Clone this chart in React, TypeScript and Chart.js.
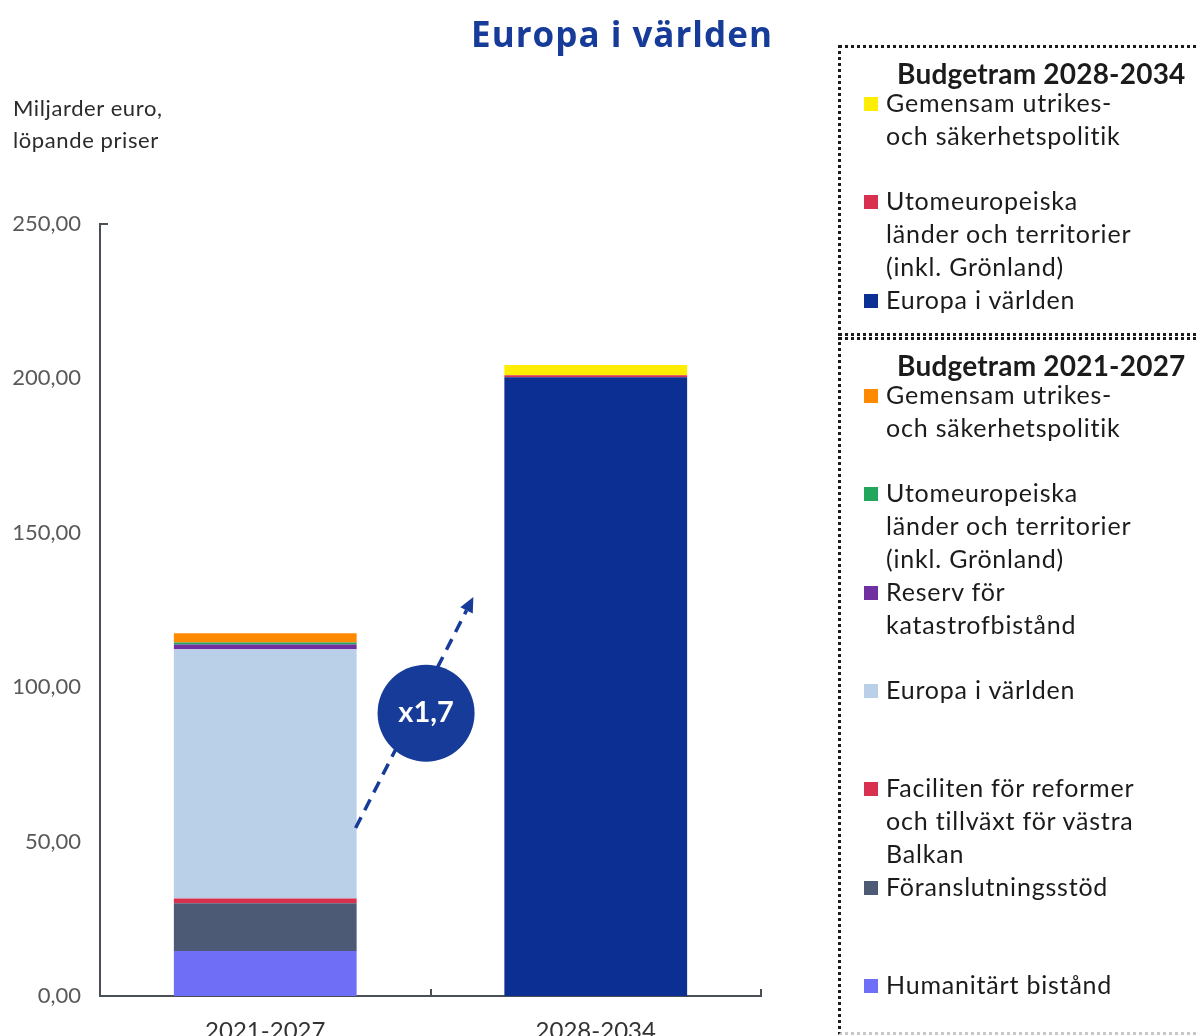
import React, { useEffect, useRef } from "react";
import { Chart, registerables } from "chart.js";

Chart.register(...registerables);

// ---------- data ----------
const categories = ["2021-2027", "2028-2034"];

// MFF 2021-2027, stacked bottom -> top
const names2021 = [
  "Humanitärt bistånd",
  "Föranslutningsstöd",
  "Faciliten för reformer\noch tillväxt för västra\nBalkan",
  "Europa i världen",
  "Reserv för\nkatastrofbistånd",
  "Utomeuropeiska\nländer och territorier\n(inkl. Grönland)",
  "Gemensam utrikes-\noch säkerhetspolitik",
];
const values2021 = [14.6, 15.4, 1.6, 80.7, 1.5, 0.7, 3.0];
const colors2021 = ["#6f6ef7", "#4c5a75", "#d8304f", "#b9d0e8", "#7030a0", "#21a65b", "#ff8a00"];

// MFF 2028-2034, stacked bottom -> top
const names2028 = [
  "Europa i världen",
  "Utomeuropeiska\nländer och territorier\n(inkl. Grönland)",
  "Gemensam utrikes-\noch säkerhetspolitik",
];
const values2028 = [200.4, 0.6, 3.3];
const colors2028 = ["#0b2f93", "#d8304f", "#ffee00"];

const yTicks = [0, 50, 100, 150, 200, 250];

const TITLE = "Europa i världen";
const Y_TITLE = ["Miljarder euro,", "löpande priser"];
const LEGEND_HEAD_2028 = "Budgetram 2028-2034";
const LEGEND_HEAD_2021 = "Budgetram 2021-2027";

// annotation (arrow + growth bubble), in value units
const ARROW_FROM_VALUE = 54.4;
const ARROW_TO_VALUE = 129.2;
const BUBBLE_VALUE = 91.6;

// ---------- styles ----------
const FONT = "Lato, 'Open Sans', sans-serif";
const AXIS_COLOR = "#4a4f55";
const ANNOT_COLOR = "#163b98";

const sum = (a: number[]) => a.reduce((s, v) => s + v, 0);

const decorPlugin = {
  id: "decor",
  afterDatasetsDraw(chart: any) {
    const { ctx, chartArea, scales } = chart;
    const y = scales.y;
    ctx.save();
    // top tick of y axis
    ctx.strokeStyle = AXIS_COLOR;
    ctx.lineWidth = 2;
    const yTop = y.getPixelForValue(yTicks[yTicks.length - 1]);
    ctx.beginPath();
    ctx.moveTo(chartArea.left, yTop);
    ctx.lineTo(chartArea.left + 8, yTop);
    ctx.stroke();
    // x category boundary ticks (pointing up)
    const n = categories.length;
    const cw = (chartArea.right - chartArea.left) / n;
    for (let i = 1; i <= n; i++) {
      const px = Math.round(chartArea.left + i * cw);
      ctx.beginPath();
      ctx.moveTo(px, chartArea.bottom);
      ctx.lineTo(px, chartArea.bottom - 7);
      ctx.stroke();
    }
    // bar geometry
    const b1 = chart.getDatasetMeta(0).data[0];
    const b2 = chart.getDatasetMeta(names2021.length).data[1];
    const b1Right = b1.x + b1.width / 2;
    const b2Left = b2.x - b2.width / 2;
    const gap = b2Left - b1Right;
    const sx = b1Right - 1;
    const sy = y.getPixelForValue(ARROW_FROM_VALUE);
    const ex = b1Right + gap * 0.79;
    const ey = y.getPixelForValue(ARROW_TO_VALUE);
    const ang = Math.atan2(ey - sy, ex - sx);
    const headLen = 15;
    const headW = 7;
    const bx = ex - headLen * Math.cos(ang);
    const by = ey - headLen * Math.sin(ang);
    ctx.strokeStyle = ANNOT_COLOR;
    ctx.fillStyle = ANNOT_COLOR;
    ctx.lineWidth = 3.5;
    ctx.setLineDash([12, 8]);
    ctx.beginPath();
    ctx.moveTo(sx, sy);
    ctx.lineTo(bx, by);
    ctx.stroke();
    ctx.setLineDash([]);
    ctx.beginPath();
    ctx.moveTo(ex, ey);
    ctx.lineTo(bx + headW * Math.sin(ang), by - headW * Math.cos(ang));
    ctx.lineTo(bx - headW * Math.sin(ang), by + headW * Math.cos(ang));
    ctx.closePath();
    ctx.fill();
    // bubble
    const cx = b1Right + gap * 0.47;
    const cy = y.getPixelForValue(BUBBLE_VALUE);
    ctx.beginPath();
    ctx.arc(cx, cy, 48.5, 0, Math.PI * 2);
    ctx.fill();
    const ratio = sum(values2028) / sum(values2021);
    ctx.fillStyle = "#ffffff";
    ctx.font = `bold 29px ${FONT}`;
    ctx.textAlign = "center";
    ctx.textBaseline = "middle";
    ctx.fillText("x" + ratio.toFixed(1).replace(".", ","), cx, cy);
    ctx.restore();
  },
};

function LegendBox({ head, names, colors, top, height, bottomBorder }: any) {
  const items = names.map((n: string, i: number) => ({ n, c: colors[i] })).reverse();
  return (
    <div
      style={{
        position: "absolute",
        left: 838,
        top,
        width: 420,
        height,
        borderTop: "3px dotted #1b1b1b",
        borderLeft: "3px dotted #1b1b1b",
        borderBottom: bottomBorder,
        boxSizing: "border-box",
      }}
    >
      <div
        style={{
          position: "absolute",
          left: 56,
          top: 9,
          font: `bold 28px ${FONT}`,
          letterSpacing: "0.2px",
          lineHeight: "33px",
          color: "#1b1b1b",
          whiteSpace: "nowrap",
        }}
      >
        {head}
      </div>
      {items.map((it: any, i: number) => (
        <div key={i} style={{ position: "absolute", left: 23, top: 38 + i * 98.3, whiteSpace: "nowrap" }}>
          <div
            style={{
              position: "absolute",
              left: 0,
              top: 11,
              width: 14,
              height: 14,
              background: it.c,
            }}
          />
          <div
            style={{
              position: "absolute",
              left: 22,
              top: 0,
              font: `25px ${FONT}`,
              letterSpacing: "0.8px",
              lineHeight: "33px",
              color: "#1b1b1b",
            }}
          >
            {it.n.split("\n").map((l: string, k: number) => (
              <div key={k}>{l}</div>
            ))}
          </div>
        </div>
      ))}
    </div>
  );
}

export default function App() {
  const canvasRef = useRef<HTMLCanvasElement | null>(null);

  useEffect(() => {
    if (!canvasRef.current) return;
    const datasets: any[] = [];
    names2021.forEach((n, i) =>
      datasets.push({
        label: n.replace(/\n/g, " ") + " (2021-2027)",
        data: [values2021[i], null],
        backgroundColor: colors2021[i],
        stack: "s",
      })
    );
    names2028.forEach((n, i) =>
      datasets.push({
        label: n.replace(/\n/g, " ") + " (2028-2034)",
        data: [null, values2028[i]],
        backgroundColor: colors2028[i],
        stack: "s",
      })
    );
    const chart = new Chart(canvasRef.current, {
      type: "bar",
      data: { labels: categories, datasets },
      plugins: [decorPlugin as any],
      options: {
        animation: false,
        responsive: false,
        maintainAspectRatio: false,
        layout: { padding: { top: 224, right: 437, bottom: 0, left: 0 } },
        datasets: { bar: { categoryPercentage: 1, barPercentage: 0.553, borderWidth: 0 } },
        plugins: { legend: { display: false }, tooltip: { enabled: false }, title: { display: false } },
        scales: {
          x: {
            stacked: true,
            grid: { display: false },
            border: { display: true, color: AXIS_COLOR, width: 2 },
            ticks: { font: { family: FONT, size: 24 }, color: "#333", padding: 13 },
            afterFit: (s: any) => {
              s.height = 40;
            },
          },
          y: {
            stacked: true,
            min: 0,
            max: 250,
            grid: { display: false },
            border: { display: true, color: AXIS_COLOR, width: 2 },
            afterBuildTicks: (s: any) => {
              s.ticks = yTicks.map((v) => ({ value: v }));
            },
            ticks: {
              font: { family: FONT, size: 22 },
              color: "#595959",
              padding: 11,
              callback: (v: any) => Number(v).toFixed(2).replace(".", ","),
            },
            afterFit: (s: any) => {
              s.width = 100;
            },
          },
        },
      },
    });
    return () => chart.destroy();
  }, []);

  return (
    <div
      style={{
        position: "absolute",
        left: 0,
        top: 0,
        width: 1198,
        height: 1036,
        overflow: "hidden",
        background: "#ffffff",
        fontFamily: FONT,
      }}
    >
      <canvas ref={canvasRef} width={1198} height={1036} style={{ position: "absolute", left: 0, top: 0 }} />
      <div
        style={{
          position: "absolute",
          left: 0,
          width: 1244,
          top: 10,
          textAlign: "center",
          font: `bold 35px 'Open Sans', ${FONT}`,
          letterSpacing: "1px",
          color: "#163b98",
          lineHeight: "48px",
        }}
      >
        {TITLE}
      </div>
      <div
        style={{
          position: "absolute",
          left: 13,
          top: 92,
          font: `22px ${FONT}`,
          letterSpacing: "0.6px",
          lineHeight: "32px",
          color: "#2b2b2b",
        }}
      >
        {Y_TITLE.map((l, i) => (
          <div key={i}>{l}</div>
        ))}
      </div>
      <LegendBox head={LEGEND_HEAD_2028} names={names2028} colors={colors2028} top={45} height={291} bottomBorder="3px dotted #1b1b1b" />
      <LegendBox
        head={LEGEND_HEAD_2021}
        names={names2021}
        colors={colors2021}
        top={337}
        height={698}
        bottomBorder="3px dotted #c8c8c8"
      />
    </div>
  );
}
